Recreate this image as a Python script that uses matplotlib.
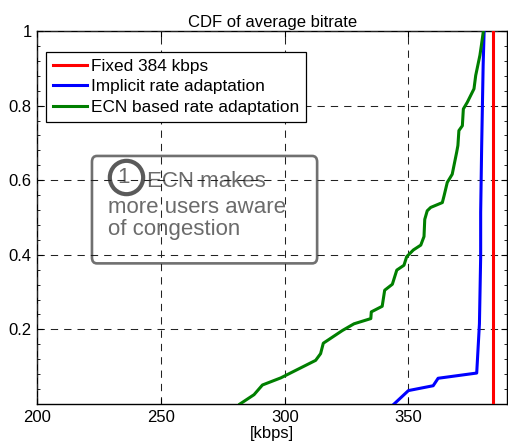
import matplotlib.pyplot as plt
from matplotlib.patches import FancyBboxPatch
from matplotlib.ticker import MultipleLocator

plt.rcParams['font.family'] = ['Liberation Sans', 'DejaVu Sans']

# Average bitrate per user (kbps) against cumulative fraction
fixed_kbps = [384, 384]
fixed_cdf = [0.0, 1.0]

implicit_kbps = [344.2, 350.0, 360.0, 362.0, 377.6, 378.7, 379.2, 379.2, 379.6, 380.2, 380.6]
implicit_cdf = [0.0, 0.036, 0.049, 0.069, 0.083, 0.215, 0.395, 0.514, 0.69, 0.908, 1.0]

ecn_kbps = [281.9, 287.6, 291.0, 298.4, 312.5, 314.5, 315.6, 323.3, 328.0, 334.8, 335.0,
            339.4, 340.4, 343.5, 345.3, 348.2, 349.3, 352.0, 355.0, 356.3, 356.6, 357.6,
            359.0, 363.7, 364.4, 365.7, 367.7, 369.5, 370.0, 370.4, 371.8, 372.2, 373.8,
            376.5, 377.2, 378.9, 379.5, 380.3]
ecn_cdf = [0.0, 0.025, 0.051, 0.07, 0.117, 0.135, 0.163, 0.197, 0.215, 0.229, 0.247,
           0.262, 0.305, 0.321, 0.359, 0.372, 0.395, 0.413, 0.426, 0.449, 0.495, 0.518,
           0.527, 0.54, 0.558, 0.594, 0.616, 0.675, 0.693, 0.733, 0.746, 0.791, 0.809,
           0.845, 0.881, 0.935, 0.962, 1.0]

xticks = [200, 250, 300, 350]
yticks = [0.2, 0.4, 0.6, 0.8, 1.0]
ytick_labels = ['0.2', '0.4', '0.6', '0.8', '1']

fs = 12

fig = plt.figure(figsize=(5.08, 4.48), dpi=100)
ax = fig.add_axes([0.0734, 0.0982, 0.9254, 0.8326])

ax.plot(fixed_kbps, fixed_cdf, color='#ff0000', lw=2.2, label='Fixed 384 kbps', zorder=4)
ax.plot(implicit_kbps, implicit_cdf, color='#0000ff', lw=2.2, label='Implicit rate adaptation', zorder=4)
ax.plot(ecn_kbps, ecn_cdf, color='#007f00', lw=2.2, label='ECN based rate adaptation', zorder=4)

ax.set_xlim(200, 390)
ax.set_ylim(0, 1)
ax.set_xticks(xticks)
ax.set_yticks(yticks)
ax.set_yticklabels(ytick_labels)
ax.yaxis.set_minor_locator(MultipleLocator(0.04))
ax.tick_params(which='both', direction='in', top=True, right=True, labelsize=fs, pad=4)
ax.tick_params(which='major', length=4, width=0.8)
ax.tick_params(which='minor', length=2, width=0.6)
ax.tick_params(axis='x', which='minor', top=False, bottom=False)
for s in ax.spines.values():
    s.set_linewidth(1.0)

ax.set_axisbelow(False)
ax.grid(True, color='#222222', lw=0.75, ls=(0, (7, 5.8)))

ax.set_title('CDF of average bitrate', fontsize=fs, pad=3)
ax.set_xlabel('[kbps]', fontsize=fs, labelpad=1)

leg = ax.legend(loc='upper left', bbox_to_anchor=(0.0185, 0.944), borderaxespad=0,
                fontsize=12.4, handlelength=2.0, handletextpad=0.2, labelspacing=0.32,
                borderpad=0.4, fancybox=False, framealpha=1)
leg.get_frame().set_edgecolor('black')
leg.get_frame().set_linewidth(0.9)

# callout box with numbered note
note_color = '#6b6b6b'
box = FancyBboxPatch((222.1, 0.377), 91.0, 0.288, boxstyle='round,pad=0,rounding_size=2',
                     fc='none', ec='#707070', lw=1.9, zorder=1, mutation_aspect=0.008)
ax.add_patch(box)
ax.plot([235.8], [0.6075], marker='o', ms=24, mfc='none', mec='#5a5a5a', mew=3.0, zorder=1)
ax.text(235.0, 0.6075, '1', color=note_color, fontsize=16, ha='center', va='center', zorder=1)
ax.text(244.2, 0.582, 'ECN makes', color=note_color, fontsize=16, va='baseline', zorder=1)
ax.text(228.6, 0.513, 'more users aware', color=note_color, fontsize=16, va='baseline', zorder=1)
ax.text(228.6, 0.452, 'of congestion', color=note_color, fontsize=16, va='baseline', zorder=1)

fig.savefig('out.png', dpi=100)
